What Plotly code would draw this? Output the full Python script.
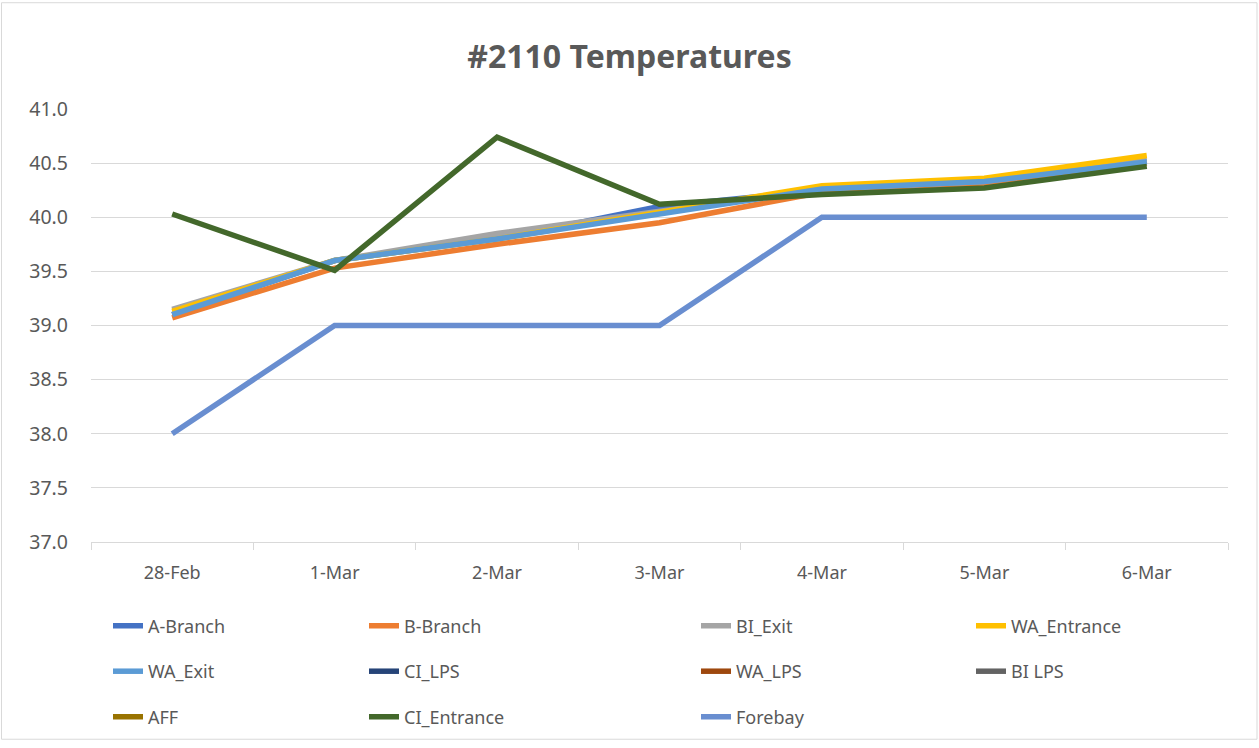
import plotly.graph_objects as go

dates = ["28-Feb", "1-Mar", "2-Mar", "3-Mar", "4-Mar", "5-Mar", "6-Mar"]

a_branch    = [39.10, 39.60, 39.80, 40.10, 40.25, 40.32, 40.52]
b_branch    = [39.07, 39.53, 39.75, 39.95, 40.23, 40.30, 40.50]
bi_exit     = [39.15, 39.60, 39.85, 40.05, 40.26, 40.33, 40.53]
wa_entrance = [39.13, 39.60, 39.80, 40.05, 40.29, 40.36, 40.57]
wa_exit     = [39.10, 39.60, 39.80, 40.03, 40.26, 40.33, 40.51]
ci_lps      = [None] * 7
wa_lps      = [None] * 7
bi_lps      = [None] * 7
aff         = [None] * 7
ci_entrance = [40.03, 39.51, 40.74, 40.12, 40.21, 40.27, 40.47]
forebay     = [38.0, 39.0, 39.0, 39.0, 40.0, 40.0, 40.0]

series = [
    ("A-Branch", a_branch, "#4472C4"),
    ("B-Branch", b_branch, "#ED7D31"),
    ("BI_Exit", bi_exit, "#A5A5A5"),
    ("WA_Entrance", wa_entrance, "#FFC000"),
    ("WA_Exit", wa_exit, "#5B9BD5"),
    ("CI_LPS", ci_lps, "#264478"),
    ("WA_LPS", wa_lps, "#9E480E"),
    ("BI LPS", bi_lps, "#636363"),
    ("AFF", aff, "#997300"),
    ("CI_Entrance", ci_entrance, "#43682B"),
    ("Forebay", forebay, "#698ED0"),
]

W, H = 1259, 748
L, R, T, B = 91, 31, 109, 201
pw, ph = W - L - R, H - T - B

def px_x(x):
    return (x - L) / pw

def px_y(y):
    return (H - B - y) / ph

font_family = "Noto Sans, Open Sans, sans-serif"

col_px = [97, 353, 685, 960]
row_px = [632, 678, 724]

fig = go.Figure()
legends = {}
for i, (name, vals, color) in enumerate(series):
    lg = "legend" if i == 0 else f"legend{i + 1}"
    fig.add_trace(go.Scatter(
        x=dates, y=vals, name=name, mode="lines",
        line=dict(color=color, width=5.5),
        legend=lg, showlegend=True,
    ))
    r, c = divmod(i, 4)
    legends[lg] = dict(
        orientation="h", xanchor="left", yanchor="middle",
        x=px_x(col_px[c] + 11), y=px_y(row_px[r]),
        font=dict(size=18, color="#595959", family=font_family),
        bgcolor="rgba(0,0,0,0)",
    )

fig.update_layout(
    width=W, height=H,
    showlegend=True,
    margin=dict(l=L, r=R, t=T, b=B),
    paper_bgcolor="white", plot_bgcolor="white",
    title=dict(text="<b>#2110 Temperatures</b>", x=0.5, xref="container", xanchor="center",
               y=1 - 57 / H, yanchor="middle",
               font=dict(size=32, color="#595959", family=font_family)),
    font=dict(family=font_family, color="#595959"),
    xaxis=dict(
        type="category", range=[-0.5, 6.5], showgrid=False, showline=True,
        linecolor="#d9d9d9", linewidth=1,
        ticks="outside", tickson="boundaries", ticklen=7, tickcolor="#d9d9d9",
        ticklabelstandoff=14,
        tickfont=dict(size=18, color="#595959"), zeroline=False,
    ),
    yaxis=dict(
        range=[37, 41], dtick=0.5, tick0=37, tickformat=".1f",
        showgrid=True, gridcolor="#d9d9d9", gridwidth=1, zeroline=False,
        showline=False, ticks="", ticklabelstandoff=22,
        tickfont=dict(size=19.5, color="#595959"),
    ),
    shapes=[dict(type="rect", xref="paper", yref="paper",
                 x0=px_x(1.5), x1=px_x(1257), y0=px_y(746.5), y1=px_y(1.5),
                 line=dict(color="#d9d9d9", width=1), fillcolor="rgba(0,0,0,0)", layer="below")],
    **legends,
)

post = (
    "document.body.style.margin='0';"
    "document.body.style.height='748px';"
    "document.body.style.overflow='hidden';"
    "document.documentElement.style.overflow='hidden';"
    "document.documentElement.style.height='748px';"
    "var d=document.getElementById('{plot_id}'); if(d){d.style.display='block'; if(d.parentElement){d.parentElement.style.height='748px';d.parentElement.style.overflow='hidden';}}"
)

fig.write_html("out.html", config={"displayModeBar": False}, post_script=post)
